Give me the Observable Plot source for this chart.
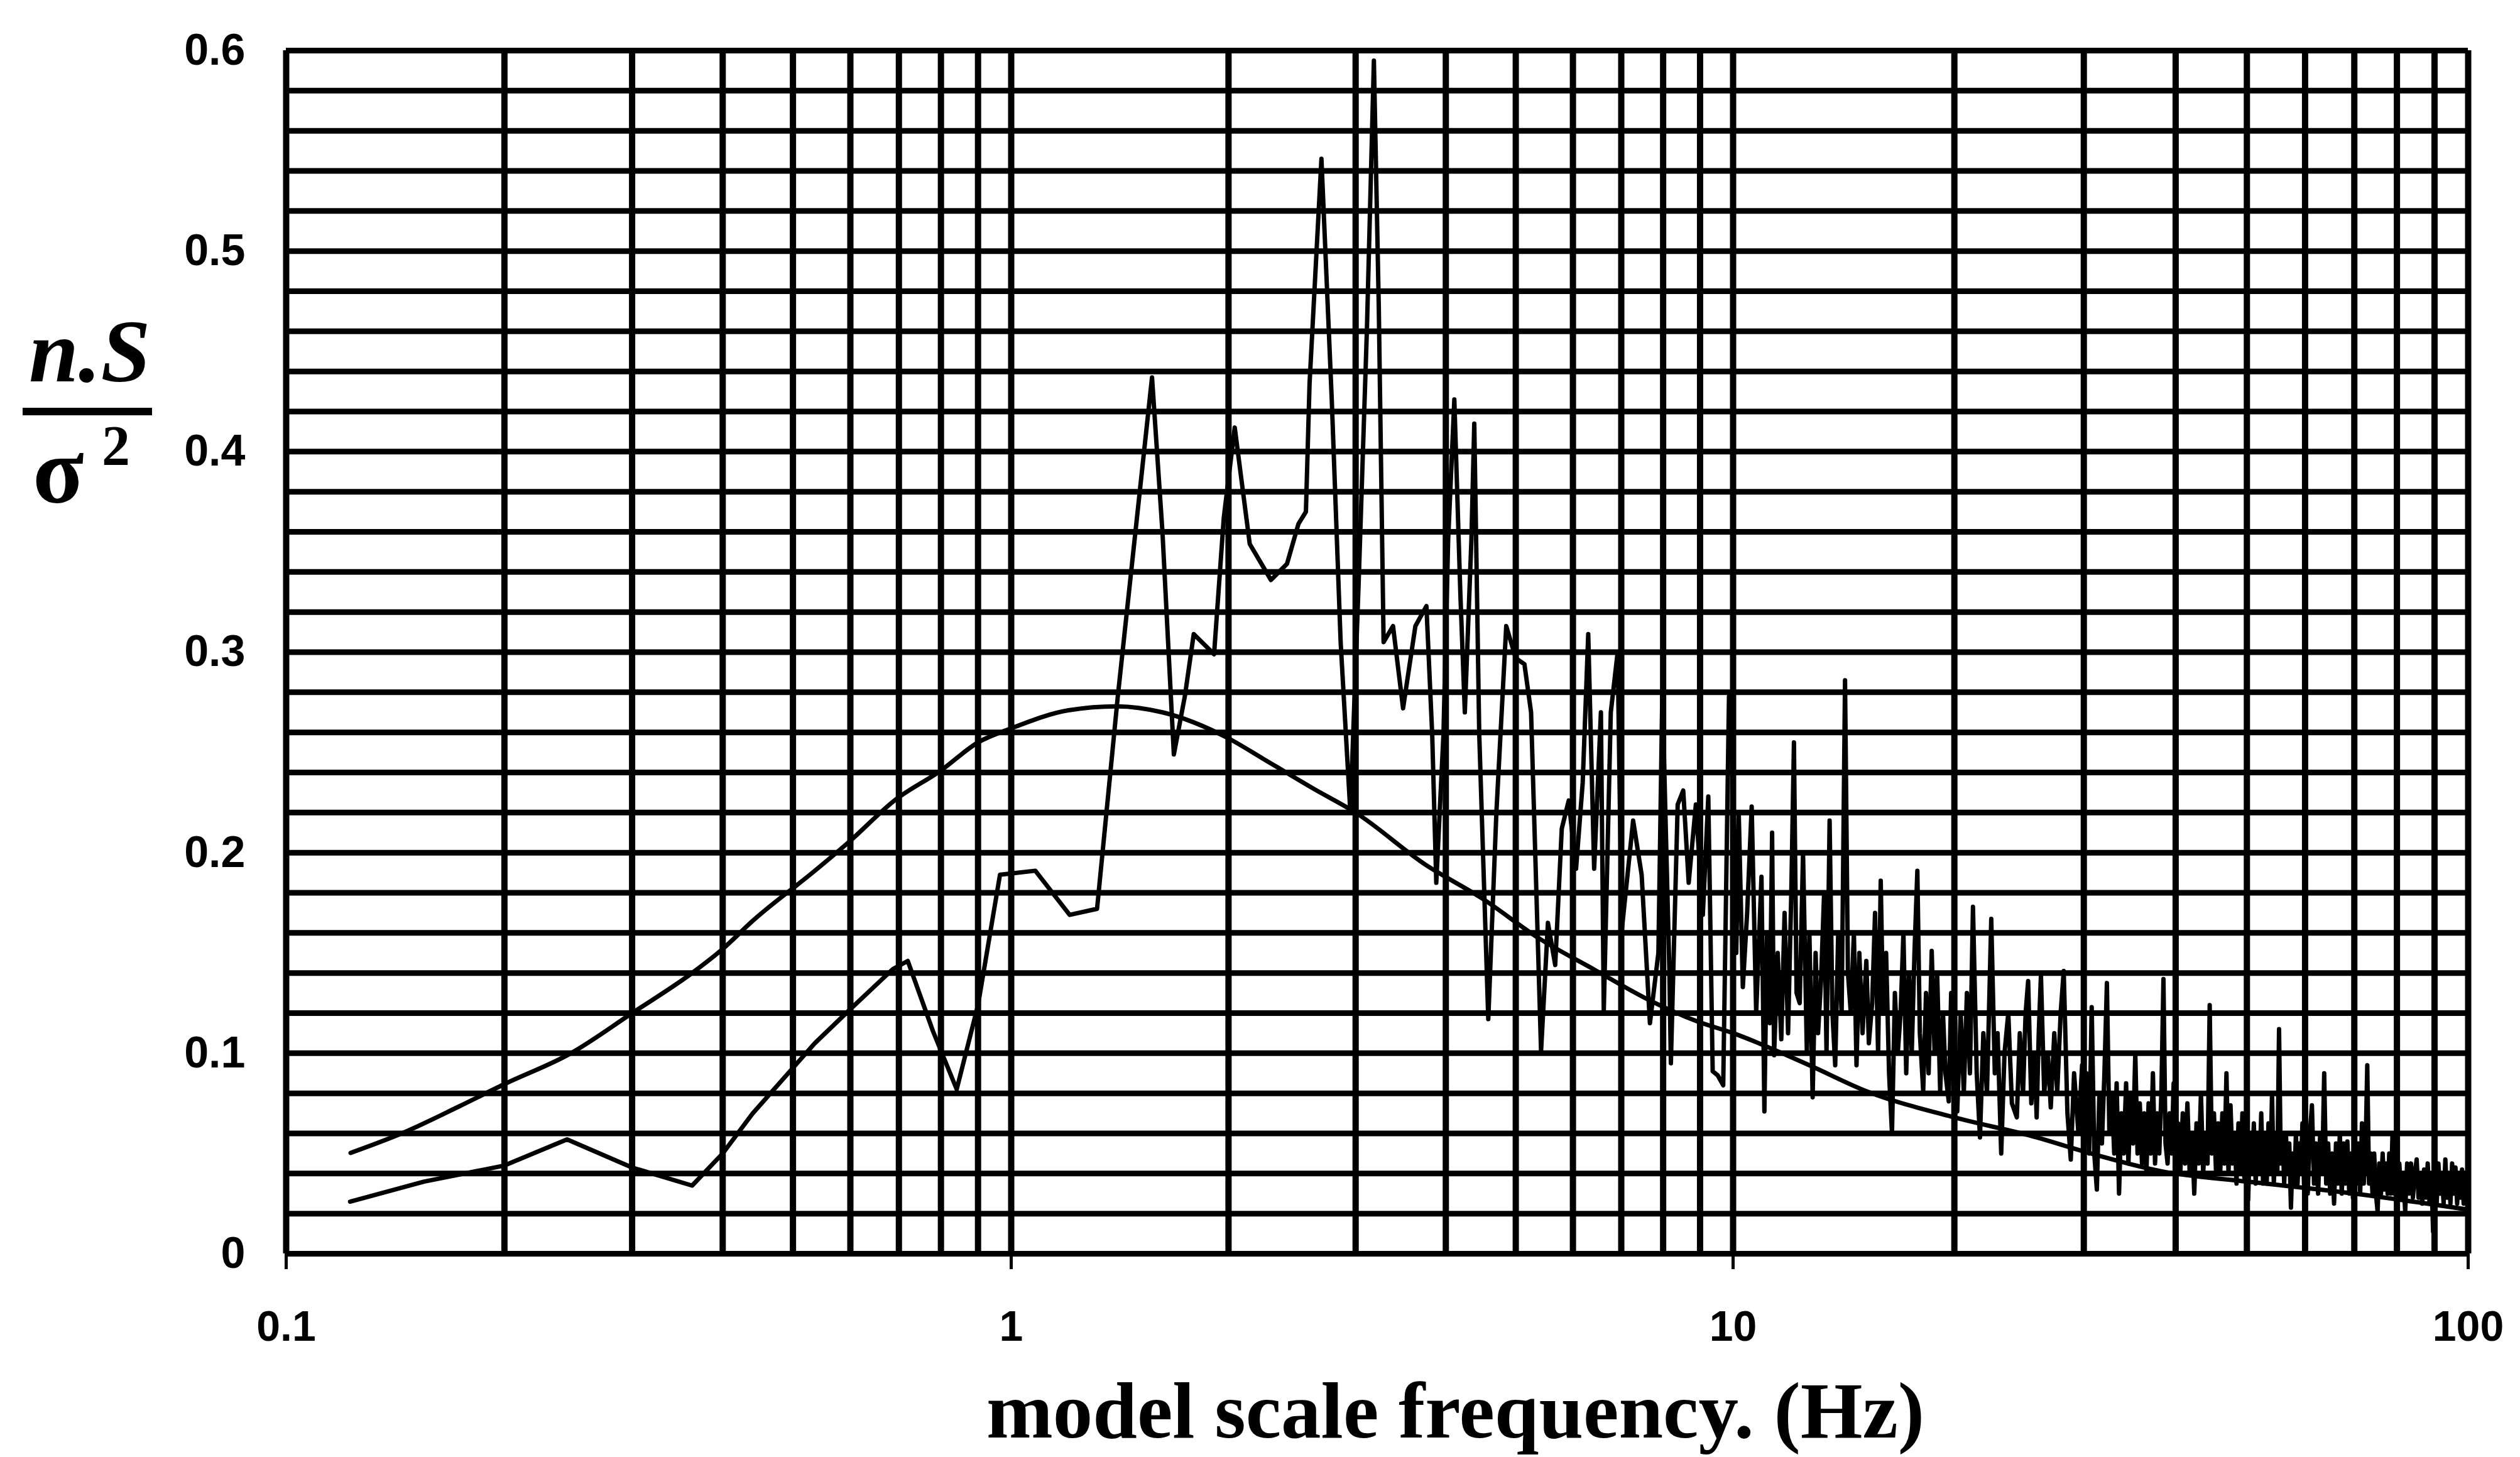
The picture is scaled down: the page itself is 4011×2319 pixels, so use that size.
<!DOCTYPE html>
<html>
<head>
<meta charset="utf-8">
<script src="https://cdn.jsdelivr.net/npm/d3@7"></script>
<script src="https://cdn.jsdelivr.net/npm/@observablehq/plot@0.6"></script>
<style>
  html, body { margin: 0; padding: 0; background: #ffffff; }
  #chart { position: relative; width: 4011px; height: 2319px; }
</style>
</head>
<body>
<div id="chart"></div>
<script>
// ---- data ----
// smooth (target) spectrum
const freqSmooth = [0.1227, 0.146, 0.173, 0.2, 0.247, 0.3, 0.363, 0.4, 0.44, 0.536, 0.6, 0.69, 0.8, 0.9, 1.0, 1.2, 1.4, 1.62, 2.0, 2.23, 2.62, 3.0, 3.75, 4.5, 5.4, 6.4, 7.7, 8.9, 10, 12.7, 15.2, 20, 25.9, 30, 38.4, 50, 70, 100];
const valSmooth = [0.0503, 0.0608, 0.0734, 0.0846, 0.100, 0.120, 0.140, 0.152, 0.166, 0.191, 0.206, 0.226, 0.241, 0.255, 0.262, 0.271, 0.273, 0.270, 0.257, 0.247, 0.232, 0.220, 0.194, 0.177, 0.157, 0.142, 0.126, 0.116, 0.110, 0.094, 0.081, 0.068, 0.058, 0.051, 0.041, 0.036, 0.030, 0.022];

// measured (noisy) spectrum, 0.12 - 10 Hz
const freqNoisyLow = [
  0.1225, 0.155, 0.2, 0.244, 0.3, 0.363, 0.4, 0.44, 0.536, 0.6, 0.687, 0.72, 0.78, 0.841, 0.9, 0.965,
  1.08, 1.205, 1.315, 1.405, 1.47, 1.567, 1.62, 1.68, 1.74, 1.79, 1.91, 1.97, 2.04, 2.14, 2.29, 2.41,
  2.5, 2.56, 2.59, 2.69, 2.78, 2.86, 2.95, 3.03, 3.11, 3.18, 3.23, 3.28, 3.38, 3.49, 3.63, 3.76,
  3.83, 3.88, 3.97, 4.03, 4.11, 4.19, 4.25, 4.34, 4.38, 4.45, 4.58, 4.70, 4.85, 5.00, 5.14, 5.25,
  5.42, 5.54, 5.67, 5.79, 5.92, 6.06, 6.19, 6.30, 6.42, 6.56, 6.62, 6.77, 6.92, 7.01, 7.27, 7.47,
  7.67, 7.88, 7.98, 8.16, 8.2, 8.38, 8.53, 8.68, 8.88, 9.08, 9.24, 9.37, 9.52, 9.69, 9.87
];
const valNoisyLow = [
  0.026, 0.036, 0.044, 0.057, 0.043, 0.034, 0.050, 0.070, 0.105, 0.122, 0.142, 0.146, 0.111, 0.082, 0.124, 0.189,
  0.191, 0.169, 0.172, 0.278, 0.344, 0.437, 0.360, 0.249, 0.278, 0.309, 0.299, 0.367, 0.412, 0.354, 0.336, 0.344,
  0.364, 0.370, 0.434, 0.546, 0.426, 0.305, 0.220, 0.336, 0.461, 0.595, 0.472, 0.305, 0.313, 0.272, 0.313, 0.323,
  0.259, 0.185, 0.259, 0.356, 0.426, 0.329, 0.270, 0.356, 0.414, 0.259, 0.117, 0.220, 0.313, 0.297, 0.294, 0.270,
  0.101, 0.165, 0.144, 0.212, 0.226, 0.192, 0.235, 0.309, 0.192, 0.270, 0.121, 0.270, 0.300, 0.161, 0.216, 0.189,
  0.115, 0.150, 0.280, 0.142, 0.095, 0.224, 0.231, 0.185, 0.224, 0.169, 0.228, 0.091, 0.089, 0.084, 0.278
];

// measured spectrum, 10 - 30 Hz
const freqNoisyMid = [
  10.0, 10.1, 10.18, 10.31, 10.45, 10.6, 10.75, 10.93, 11.03, 11.12, 11.22, 11.3, 11.37, 11.5, 11.63, 11.75,
  11.88, 12.0, 12.1, 12.2, 12.32, 12.45, 12.6, 12.7, 12.83, 12.95, 13.05, 13.17, 13.3, 13.4, 13.53, 13.65,
  13.77, 13.9, 14.05, 14.2, 14.33, 14.46, 14.6, 14.72, 14.85, 15.0, 15.18, 15.3, 15.46, 15.6, 15.75, 15.88,
  16.0, 16.15, 16.3, 16.45, 16.6, 16.75, 16.9, 17.05, 17.2, 17.35, 17.5, 17.65, 17.81, 17.95, 18.14, 18.3,
  18.45, 18.63, 18.8, 18.95, 19.13, 19.3, 19.45, 19.65, 19.8, 19.95, 20.18, 20.4, 20.6, 20.8, 21.0, 21.2,
  21.45, 21.67, 21.9, 22.15, 22.45, 22.7, 22.9, 23.16, 23.4, 23.68, 23.95, 24.32, 24.55, 24.8, 25.0, 25.2,
  25.45, 25.7, 25.88, 26.05, 26.23, 26.5, 26.8, 27.05, 27.35, 27.6, 27.9, 28.17, 28.5, 28.8, 29.1, 29.5,
  29.84
];
const valNoisyMid = [
  0.240, 0.150, 0.219, 0.133, 0.170, 0.223, 0.120, 0.188, 0.071, 0.160, 0.115, 0.210, 0.099, 0.150, 0.107, 0.170,
  0.110, 0.180, 0.255, 0.130, 0.125, 0.200, 0.100, 0.160, 0.078, 0.150, 0.110, 0.136, 0.180, 0.100, 0.216, 0.120,
  0.094, 0.160, 0.120, 0.286, 0.140, 0.120, 0.160, 0.094, 0.150, 0.110, 0.146, 0.105, 0.125, 0.170, 0.100, 0.186,
  0.120, 0.150, 0.090, 0.060, 0.130, 0.100, 0.120, 0.160, 0.090, 0.140, 0.100, 0.150, 0.191, 0.110, 0.081, 0.130,
  0.090, 0.151, 0.100, 0.140, 0.081, 0.120, 0.090, 0.076, 0.130, 0.095, 0.071, 0.120, 0.080, 0.130, 0.090, 0.173,
  0.090, 0.058, 0.110, 0.080, 0.167, 0.090, 0.110, 0.050, 0.100, 0.120, 0.075, 0.068, 0.110, 0.080, 0.120, 0.136,
  0.075, 0.100, 0.068, 0.110, 0.139, 0.080, 0.100, 0.073, 0.110, 0.080, 0.120, 0.141, 0.070, 0.047, 0.090, 0.060,
  0.094
];

// measured spectrum, 30 - 100 Hz (dense band)
const freqNoisyHigh = [
  30.0, 30.25, 30.5, 30.75, 31.0, 31.25, 31.5, 31.75, 32.0, 32.25,
  32.5, 32.75, 33.0, 33.25, 33.5, 33.75, 34.0, 34.25, 34.5, 34.75,
  35.0, 35.25, 35.5, 35.75, 36.0, 36.25, 36.5, 36.75, 37.0, 37.25,
  37.5, 37.75, 38.0, 38.25, 38.5, 38.75, 39.0, 39.25, 39.5, 39.75,
  40.0,
  40.3, 40.6, 40.9, 41.2, 41.5, 41.8, 42.1, 42.4, 42.7, 43.0,
  43.3, 43.6, 43.9, 44.2, 44.5, 44.8, 45.1, 45.4, 45.7, 46.0,
  46.3, 46.6, 46.9, 47.2, 47.5, 47.8, 48.1, 48.4, 48.7, 49.0,
  49.3, 49.6, 49.9, 50.2, 50.5, 50.8, 51.1, 51.4, 51.7, 52.0,
  52.3, 52.6, 52.9, 53.2, 53.5, 53.8, 54.1, 54.4, 54.7, 55.0,
  55.3, 55.6, 55.9, 56.2, 56.5, 56.8, 57.1, 57.4, 57.7, 58.0,
  58.3, 58.6, 58.9, 59.2, 59.5, 59.8, 60.1,
  60.5, 60.9, 61.3, 61.7, 62.1, 62.5, 62.9, 63.3, 63.7, 64.1,
  64.5, 64.9, 65.3, 65.7, 66.1, 66.5, 66.9, 67.3, 67.7, 68.1,
  68.5, 68.9, 69.3, 69.7, 70.1, 70.5, 70.9, 71.3, 71.7, 72.1,
  72.5, 72.9, 73.3, 73.7, 74.1, 74.5, 74.9, 75.3, 75.7, 76.1,
  76.5, 76.9, 77.3, 77.7, 78.1, 78.5, 78.9, 79.3, 79.7, 80.1,
  80.6, 81.1, 81.6, 82.1, 82.6, 83.1, 83.6, 84.1, 84.6, 85.1,
  85.6, 86.1, 86.6, 87.1, 87.6, 88.1, 88.6, 89.1, 89.6, 90.1,
  90.6, 91.1, 91.6, 92.1, 92.6, 93.1, 93.6, 94.1, 94.6, 95.1,
  95.6, 96.1, 96.6, 97.1, 97.6, 98.1, 98.6, 99.1, 99.6, 100
];
const valNoisyHigh = [
  0.060, 0.090, 0.050, 0.123, 0.050, 0.032, 0.080, 0.055, 0.090, 0.135,
  0.060, 0.080, 0.050, 0.085, 0.030, 0.070, 0.050, 0.085, 0.045, 0.080,
  0.055, 0.100, 0.050, 0.075, 0.045, 0.070, 0.041, 0.075, 0.050, 0.090,
  0.045, 0.070, 0.050, 0.080, 0.137, 0.055, 0.045, 0.070, 0.050, 0.085,
  0.045,
  0.065, 0.041, 0.070, 0.045, 0.075, 0.040, 0.060, 0.030, 0.065, 0.045,
  0.080, 0.040, 0.060, 0.045, 0.124, 0.050, 0.070, 0.040, 0.065, 0.041,
  0.070, 0.045, 0.090, 0.040, 0.074, 0.045, 0.060, 0.035, 0.065, 0.040,
  0.070, 0.038, 0.055, 0.027, 0.060, 0.040, 0.065, 0.035, 0.060, 0.040,
  0.070, 0.035, 0.060, 0.035, 0.065, 0.040, 0.080, 0.035, 0.060, 0.040,
  0.112, 0.045, 0.060, 0.035, 0.060, 0.040, 0.055, 0.023, 0.050, 0.035,
  0.060, 0.035, 0.055, 0.040, 0.065, 0.035, 0.050,
  0.030, 0.060, 0.074, 0.035, 0.055, 0.030, 0.060, 0.040, 0.090, 0.035,
  0.055, 0.030, 0.050, 0.025, 0.055, 0.035, 0.060, 0.030, 0.055, 0.035,
  0.056, 0.030, 0.050, 0.028, 0.050, 0.035, 0.055, 0.030, 0.065, 0.035,
  0.050, 0.094, 0.035, 0.050, 0.030, 0.050, 0.030, 0.021, 0.045, 0.030,
  0.050, 0.032, 0.045, 0.030, 0.050, 0.030, 0.060, 0.030, 0.055, 0.030,
  0.045, 0.028, 0.040, 0.021, 0.045, 0.030, 0.045, 0.028, 0.040, 0.047,
  0.028, 0.040, 0.025, 0.042, 0.028, 0.045, 0.025, 0.040, 0.011, 0.040,
  0.025, 0.045, 0.030, 0.040, 0.025, 0.047, 0.028, 0.040, 0.025, 0.045,
  0.030, 0.043, 0.025, 0.040, 0.028, 0.042, 0.025, 0.040, 0.028, 0.030
];

// grid and ticks
const xGrid = [0.1, 0.2, 0.3, 0.4, 0.5, 0.6, 0.7, 0.8, 0.9, 1, 2, 3, 4, 5, 6, 7, 8, 9, 10, 20, 30, 40, 50, 60, 70, 80, 90, 100];
const yGrid = [0, 0.02, 0.04, 0.06, 0.08, 0.1, 0.12, 0.14, 0.16, 0.18, 0.2, 0.22, 0.24, 0.26, 0.28, 0.3, 0.32, 0.34, 0.36, 0.38, 0.4, 0.42, 0.44, 0.46, 0.48, 0.5, 0.52, 0.54, 0.56, 0.58, 0.6];
const xTicks = [0.1, 1, 10, 100];
const xTickLabels = ["0.1", "1", "10", "100"];
const yTicks = [0, 0.1, 0.2, 0.3, 0.4, 0.5, 0.6];
const yTickLabels = ["0", "0.1", "0.2", "0.3", "0.4", "0.5", "0.6"];

const xTitle = "model scale frequency. (Hz)";

// tables for Plot
const toRows = (fs, vs) => fs.map((f, i) => ({f, v: vs[i]}));
const smooth = toRows(freqSmooth, valSmooth);
const noisy = [
  ...toRows(freqNoisyLow, valNoisyLow),
  ...toRows(freqNoisyMid, valNoisyMid),
  ...toRows(freqNoisyHigh, valNoisyHigh)
].filter(d => d.v !== undefined);

const W = 4011, H = 2319;

const svg = Plot.plot({
  width: W,
  height: H,
  marginLeft: 455,
  marginRight: 83,
  marginTop: 80,
  marginBottom: 324,
  style: {
    fontFamily: "'Liberation Sans', Arial, sans-serif",
    fontSize: "68px",
    fontWeight: "bold",
    background: "#ffffff",
    color: "#000000"
  },
  // the scanned axis is slightly uneven: decades placed where the reference has them
  x: {type: "log", domain: [0.1, 1, 10, 100], range: [455, 1609, 2758, 3928]},
  y: {domain: [0, 0.6]},
  marks: [
    Plot.ruleY(yGrid, {stroke: "#000", strokeWidth: 9}),
    Plot.ruleX(xGrid, {stroke: "#000", strokeWidth: 10}),
    Plot.axisX({
      ticks: xTicks,
      tickFormat: d => xTickLabels[xTicks.indexOf(d)],
      tickSize: 25,
      tickPadding: 65,
      strokeWidth: 5,
      label: null,
      fontSize: 68,
      fontWeight: "bold"
    }),
    Plot.axisY({
      ticks: yTicks,
      tickFormat: d => yTickLabels[yTicks.indexOf(d)],
      tickSize: 0,
      tickPadding: 65,
      label: null,
      fontSize: 70,
      fontWeight: "bold"
    }),
    Plot.line(smooth, {x: "f", y: "v", stroke: "#000", strokeWidth: 7, curve: "monotone-x"}),
    Plot.line(noisy, {x: "f", y: "v", stroke: "#000", strokeWidth: 7, curve: "linear", strokeLinejoin: "round"})
  ]
});

document.getElementById("chart").appendChild(svg);

// axis titles drawn into the same svg
const s = d3.select(svg);
// x title
s.append("text")
  .attr("x", 1570)
  .attr("y", 2288)
  .attr("text-anchor", "start")
  .attr("font-family", "'Liberation Serif', 'Times New Roman', serif")
  .attr("font-size", 127)
  .attr("font-weight", "bold")
  .attr("fill", "#000")
  .text(xTitle);

// y label: n.S over sigma^2
const yl = s.append("g")
  .attr("fill", "#000")
  .attr("text-anchor", "start")
  .attr("font-family", "'Liberation Serif', 'Times New Roman', serif");
yl.append("text")
  .attr("x", 46).attr("y", 607)
  .attr("font-size", 142).attr("font-weight", "bold").attr("font-style", "italic")
  .text("n.S");
yl.append("line")
  .attr("x1", 36).attr("x2", 242).attr("y1", 655).attr("y2", 655)
  .attr("stroke", "#000").attr("stroke-width", 12);
yl.append("text")
  .attr("x", 52).attr("y", 800)
  .attr("font-size", 150).attr("font-weight", "bold")
  .text("σ");
yl.append("text")
  .attr("x", 162).attr("y", 740)
  .attr("font-size", 90)
  .text("2");
</script>
</body>
</html>
